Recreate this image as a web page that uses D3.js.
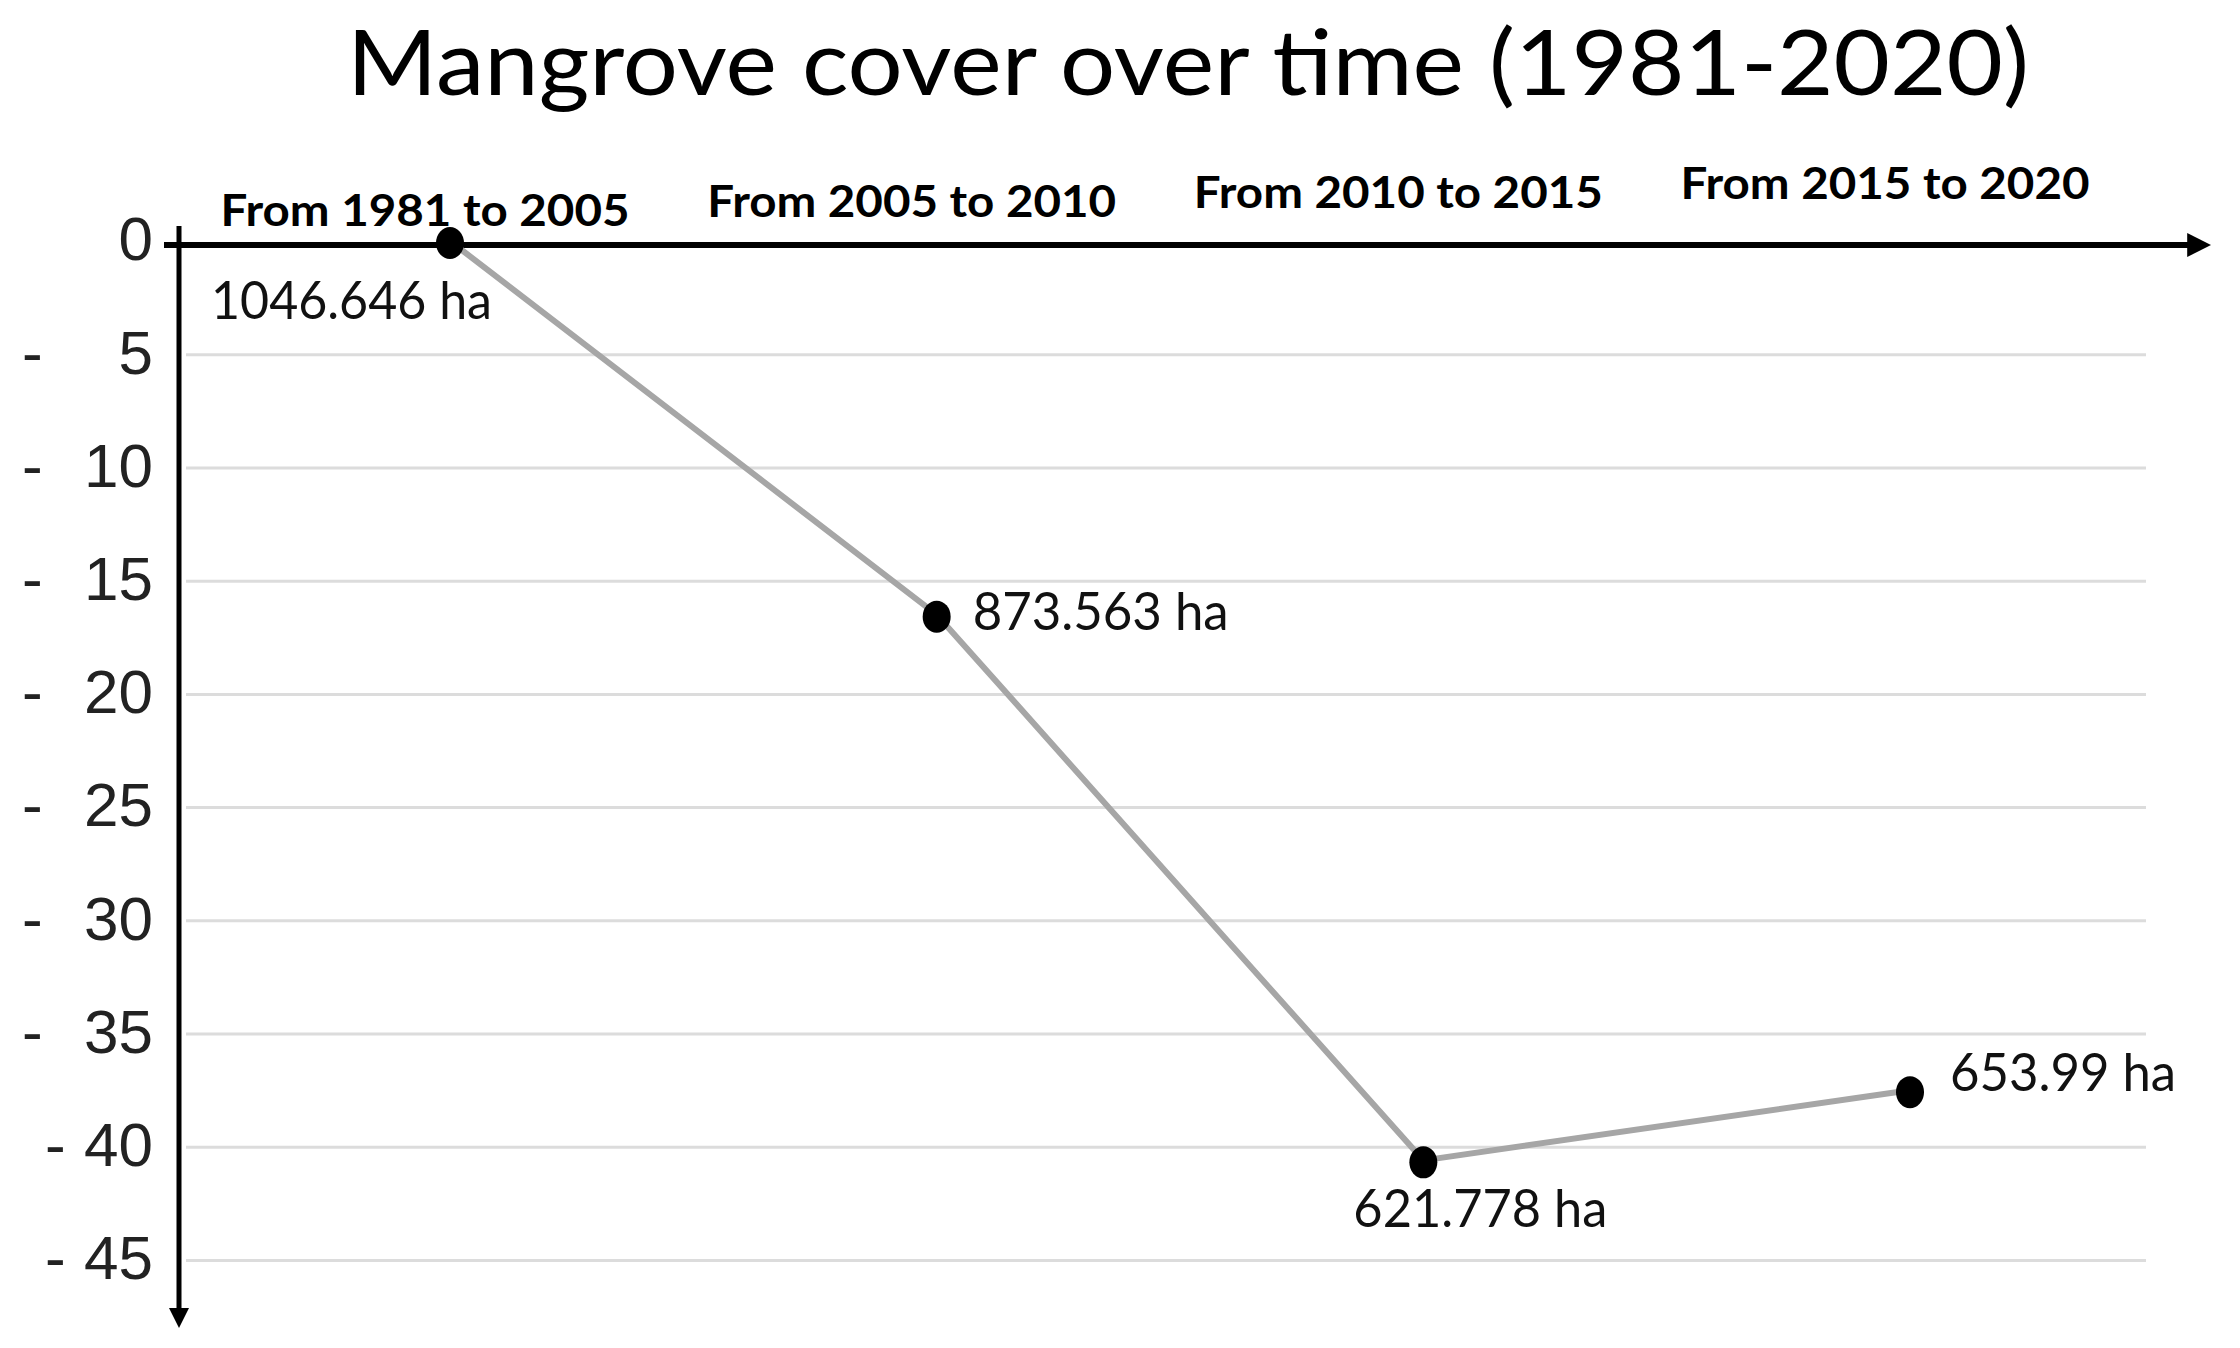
<!DOCTYPE html>
<html><head><meta charset="utf-8">
<script src="https://cdn.jsdelivr.net/npm/d3@7"></script>
<style>html,body{margin:0;padding:0;background:#fff;}</style>
</head><body>
<svg id="chart" width="2240" height="1348"></svg>
<script>
const title = "Mangrove cover over time (1981-2020)";
const categories = ["From 1981 to 2005", "From 2005 to 2010", "From 2010 to 2015", "From 2015 to 2020"];
const changePct = [0, -16.5, -40.6, -37.5];
const areaLabels = ["1046.646 ha", "873.563 ha", "621.778 ha", "653.99 ha"];
const yTicks = [0, -5, -10, -15, -20, -25, -30, -35, -40, -45];
const yTickLabels = ["0", "- 5", "- 10", "- 15", "- 20", "- 25", "- 30", "- 35", "- 40", "- 45"];

const svg = d3.select("#chart");
svg.append("rect").attr("width", 2240).attr("height", 1348).attr("fill", "#fff");

const x = d3.scalePoint().domain(categories).range([450, 1910]);
const y = d3.scaleLinear().domain([0, -45]).range([241, 1260]);

// gridlines
const grid = svg.append("g").attr("transform", "translate(186,0)")
  .call(d3.axisRight(y).tickValues(yTicks.slice(1)).tickSize(1960).tickFormat(""));
grid.select(".domain").remove();
grid.selectAll(".tick line").attr("stroke", "#dcdcdc").attr("stroke-width", 3);

// title
svg.append("text").attr("x", 347).attr("y", 95)
  .attr("font-family", "Lato, 'Open Sans', sans-serif").attr("font-size", 92)
  .attr("textLength", 1682).attr("lengthAdjust", "spacingAndGlyphs")
  .attr("fill", "#000").text(title);

// axes lines with arrows
const defs = svg.append("defs");
defs.append("marker").attr("id", "arr").attr("viewBox", "0 0 10 10")
  .attr("refX", 2).attr("refY", 5).attr("markerWidth", 4).attr("markerHeight", 4)
  .attr("markerUnits", "strokeWidth").attr("orient", "auto")
  .append("path").attr("d", "M0,0 L10,5 L0,10 z").attr("fill", "#000");

const axisY = y(0) + 4;
svg.append("line").attr("x1", 164).attr("y1", axisY).attr("x2", 2192).attr("y2", axisY)
  .attr("stroke", "#000").attr("stroke-width", 6).attr("marker-end", "url(#arr)");
svg.append("line").attr("x1", 179).attr("y1", 226).attr("x2", 179).attr("y2", 1312)
  .attr("stroke", "#000").attr("stroke-width", 5).attr("marker-end", "url(#arr)");

// y tick labels
const tl = svg.append("g").attr("font-family", "'Liberation Sans', Arial, sans-serif")
  .attr("font-size", 62).attr("fill", "#222");
yTicks.forEach((t, i) => {
  const parts = yTickLabels[i].split(" ");
  const num = parts[parts.length - 1];
  tl.append("text").attr("x", 153).attr("y", y(t) - 3).attr("dy", "0.36em")
    .attr("text-anchor", "end").text(num);
  if (parts.length > 1) {
    tl.append("text").attr("x", i >= 8 ? 45 : 22).attr("y", y(t) - 3).attr("dy", "0.36em")
      .text(parts[0]);
  }
});

// category labels
categories.forEach((c, i) => {
  svg.append("text").attr("x", x(c) - 25).attr("y", 226 - 9 * i)
    .attr("text-anchor", "middle")
    .attr("font-family", "Lato, 'Open Sans', sans-serif").attr("font-weight", "bold")
    .attr("font-size", 44).attr("textLength", 409).attr("lengthAdjust", "spacingAndGlyphs")
    .attr("fill", "#000").text(c);
});

// line
const pts = categories.map((c, i) => [x(c), y(changePct[i])]);
svg.append("path").attr("d", d3.line()(pts)).attr("fill", "none")
  .attr("stroke", "#a6a6a6").attr("stroke-width", 6);

svg.selectAll("ellipse.pt").data(pts).enter().append("ellipse")
  .attr("cx", d => d[0]).attr("cy", d => d[1] + 2).attr("rx", 14).attr("ry", 16).attr("fill", "#000");

// value labels
const offs = [[-239, 78], [36, 15], [-70, 67], [40, 1]];
const lens = [281, 256, 254, 226];
pts.forEach((p, i) => {
  svg.append("text").attr("x", p[0] + offs[i][0]).attr("y", p[1] + offs[i][1])
    .attr("font-family", "Lato, 'Open Sans', sans-serif").attr("font-size", 53)
    .attr("textLength", lens[i]).attr("lengthAdjust", "spacingAndGlyphs")
    .attr("fill", "#111").text(areaLabels[i]);
});
</script>
</body></html>
